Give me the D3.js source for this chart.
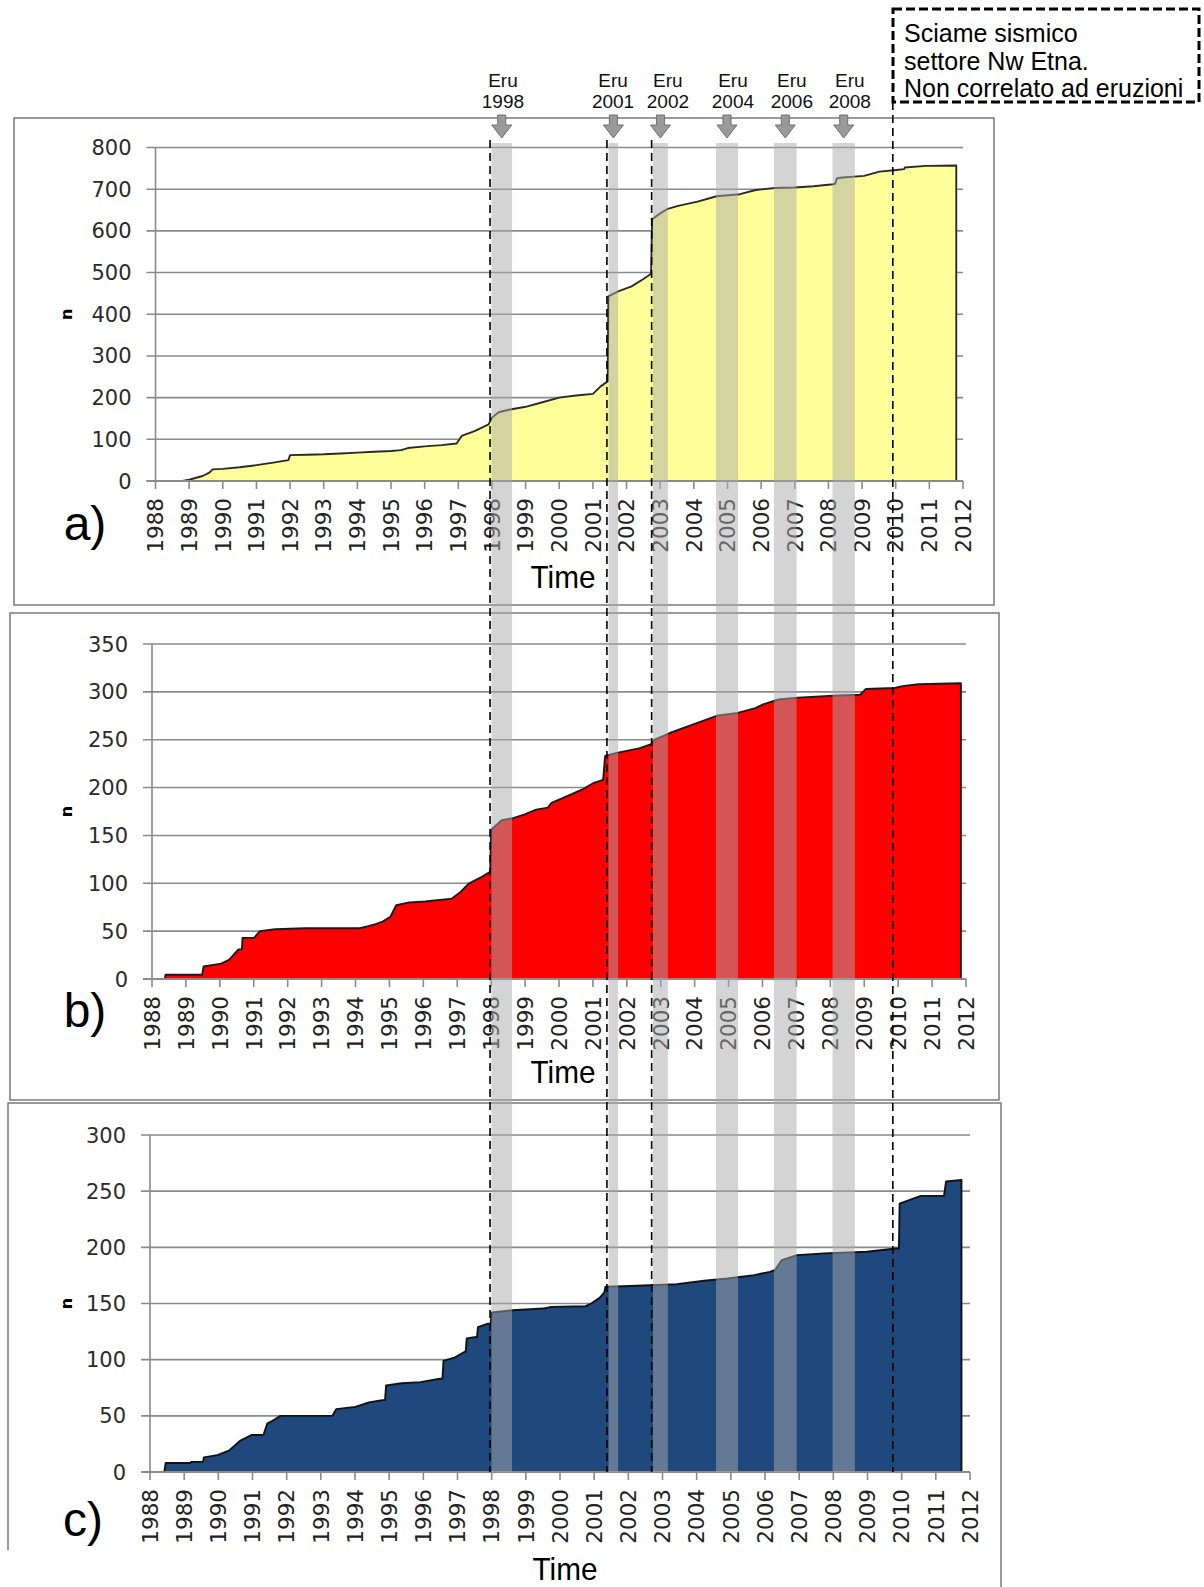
<!DOCTYPE html>
<html><head><meta charset="utf-8">
<script src="https://cdn.jsdelivr.net/npm/d3@7"></script>
<style>body{margin:0;background:#fff}svg{display:block}</style>
</head><body>
<svg id="chart" width="1204" height="1587"></svg>
<script>
// ---------------- DATA ----------------
const years = d3.range(1988, 2013);
// cumulative number of events, [decimal year, n]
const seriesA = [[1988,0],[1988.8,0],[1989.0,3],[1989.4,12],[1989.6,20],[1989.7,28],[1990.0,29],[1990.5,33],[1991.0,38],[1991.5,44],[1991.95,50],[1992.0,62],[1992.5,63],[1993.0,64],[1993.5,66],[1994.0,68],[1994.5,70],[1995.0,72],[1995.3,74],[1995.5,79],[1996.0,83],[1996.5,86],[1996.95,90],[1997.1,108],[1997.5,120],[1997.9,136],[1998.0,152],[1998.2,165],[1998.5,171],[1999.0,178],[1999.5,189],[2000.0,200],[2000.5,205],[2001.0,209],[2001.23,227],[2001.44,239],[2001.46,443],[2001.75,455],[2002.15,467],[2002.49,484],[2002.73,497],[2002.76,628],[2003.0,642],[2003.2,652],[2003.53,660],[2004.11,670],[2004.68,683],[2005.37,688],[2005.84,698],[2006.41,703],[2006.99,704],[2007.56,707],[2008.14,712],[2008.2,713],[2008.25,726],[2008.42,728],[2009.06,732],[2009.52,742],[2010.02,746],[2010.25,748],[2010.27,752],[2010.9,756],[2011.8,757]];
const seriesB = [[1988,0],[1988.38,0],[1988.4,4.5],[1989.48,4.5],[1989.52,13],[1990.04,16],[1990.27,20],[1990.55,31],[1990.65,31],[1990.67,43],[1991.01,43],[1991.18,50],[1991.63,52],[1992.53,53],[1994.12,53],[1994.35,55],[1994.57,57],[1994.8,60],[1995.03,65],[1995.2,77],[1995.59,80],[1996.05,81],[1996.84,84],[1997.07,90],[1997.35,100],[1997.74,107],[1997.97,112],[1998.0,156],[1998.31,166],[1998.65,168],[1998.99,172],[1999.33,177],[1999.67,179],[1999.78,184],[2000.24,191],[2000.69,198],[2001.03,205],[2001.3,208],[2001.36,233],[2001.67,236],[2002.36,241],[2002.7,245],[2002.82,250],[2003.27,257],[2003.96,266],[2004.65,275],[2005.27,278],[2005.79,283],[2006.02,287],[2006.47,292],[2007.05,294],[2008.08,296],[2008.88,297],[2009.05,303],[2009.9,304],[2010.13,306],[2010.59,308],[2011.85,309]];
const seriesC = [[1988,0],[1988.42,0],[1988.46,8],[1989.19,8],[1989.2,9],[1989.55,9],[1989.58,13],[1989.97,15],[1990.31,19],[1990.65,28],[1990.98,33],[1991.32,33],[1991.43,43],[1991.55,45],[1991.82,50],[1993.34,50],[1993.45,56],[1994.01,58],[1994.41,62],[1994.8,64],[1994.88,64],[1994.91,77],[1995.36,79],[1995.92,80],[1996.48,83],[1996.56,83],[1996.59,99],[1996.93,102],[1997.21,107],[1997.24,107],[1997.27,119],[1997.49,120],[1997.57,120],[1997.6,129],[1997.89,132],[1997.97,132],[1998.0,142],[1998.61,144],[1999.51,145.5],[1999.74,147],[2000.75,147.6],[2000.91,150],[2001.16,155],[2001.3,160],[2001.33,165],[2001.84,165.4],[2002.63,166.3],[2003.42,167.2],[2004.22,170.2],[2004.9,172.3],[2005.69,175.3],[2006.14,178.2],[2006.3,180],[2006.49,188.6],[2006.94,193.1],[2007.73,194.6],[2008.98,196.1],[2009.83,199],[2009.92,199],[2009.94,239],[2010.22,242],[2010.56,245.8],[2011.24,245.8],[2011.3,258.6],[2011.75,260]];

const yTicksA = [0,100,200,300,400,500,600,700,800];
const yTicksB = [0,50,100,150,200,250,300,350];
const yTicksC = [0,50,100,150,200,250,300];

const eruNames = ["Eru 1998","Eru 2001","Eru 2002","Eru 2004","Eru 2006","Eru 2008"];
const eruBandStart = [1997.99, 2001.45, 2002.76, 2004.62, 2006.33, 2008.06];
const eruBandEnd   = [1998.60, 2001.73, 2003.20, 2005.27, 2007.00, 2008.72];
const eruLabelYear = [1998.33, 2001.58, 2003.20, 2005.12, 2006.86, 2008.57];
const dashedYears  = [1997.95, 2001.40, 2002.72, 2009.84];
const noteLines = ["Sciame sismico", "settore Nw Etna.", "Non correlato ad eruzioni"];

// ---------------- LAYOUT ----------------
const svg = d3.select("#chart");
const panels = [
  {data: seriesA, ticks: yTicksA, yMax: 800, fill: "#ffff99", stroke: "#2a2a2a", letter: "a)",
   frame: [14,118,994,605], xr: [155.5,963], yr: [481,147.5], letterPos: [85,540], timePos: [563,588], open:false},
  {data: seriesB, ticks: yTicksB, yMax: 350, fill: "#ff0000", stroke: "#1a1a1a", letter: "b)",
   frame: [10,613,999,1100], xr: [152,966], yr: [979,644], letterPos: [85,1027], timePos: [563,1083], open:false},
  {data: seriesC, ticks: yTicksC, yMax: 300, fill: "#1f497d", stroke: "#111", letter: "c)",
   frame: [8,1103,1001,1587], xr: [150,970], yr: [1472,1135], letterPos: [83,1536], timePos: [565,1580], open:true}
];
const gridColor = "#8a8a8a";
const tickFont = "'DejaVu Sans', Verdana, sans-serif";

panels.forEach(p => {
  const g = svg.append("g");
  const x = d3.scaleLinear().domain([1988,2012]).range(p.xr);
  const y = d3.scaleLinear().domain([0,p.yMax]).range(p.yr);
  const [fx0,fy0,fx1,fy1] = p.frame;
  if (!p.open) {
    g.append("rect").attr("x",fx0).attr("y",fy0).attr("width",fx1-fx0).attr("height",fy1-fy0)
      .attr("fill","none").attr("stroke","#7a7a7a").attr("stroke-width",1.5);
  } else {
    g.append("path").attr("d",`M${fx0},1550V${fy0}H${fx1}V${fy1}`)
      .attr("fill","none").attr("stroke","#7a7a7a").attr("stroke-width",1.5);
  }
  // gridlines
  g.selectAll(".grid").data(p.ticks).join("line")
    .attr("x1", x(1988)-9).attr("x2", x(2012))
    .attr("y1", d=>y(d)).attr("y2", d=>y(d))
    .attr("stroke", gridColor).attr("stroke-width", 1.6);
  // area
  const area = d3.area().x(d=>x(d[0])).y0(y(0)).y1(d=>y(d[1]));
  g.append("path").datum(p.data).attr("d", area).attr("fill", p.fill);
  const last = p.data[p.data.length-1];
  const outline = p.data.concat([[last[0],0]]);
  g.append("path").datum(outline).attr("d", d3.line().x(d=>x(d[0])).y(d=>y(d[1])))
    .attr("fill","none").attr("stroke",p.stroke).attr("stroke-width",1.9).attr("stroke-linejoin","round");
  // axes
  g.append("line").attr("x1",x(1988)).attr("x2",x(1988)).attr("y1",y(0)).attr("y2",y(p.yMax))
    .attr("stroke",gridColor).attr("stroke-width",1.6);
  g.append("line").attr("x1",x(1988)-9).attr("x2",x(2012)).attr("y1",y(0)).attr("y2",y(0))
    .attr("stroke",gridColor).attr("stroke-width",1.8);
  g.selectAll(".xt").data(years).join("line")
    .attr("x1",d=>x(d)).attr("x2",d=>x(d)).attr("y1",y(0)).attr("y2",y(0)+8)
    .attr("stroke",gridColor).attr("stroke-width",1.6);
  // y labels
  g.selectAll(".yl").data(p.ticks).join("text")
    .attr("x", x(1988)-24).attr("y", d=>y(d)).attr("dy","0.36em")
    .attr("text-anchor","end").attr("font-family",tickFont).attr("font-size",21).attr("fill","#2b2b2b")
    .text(d=>d);
  // x labels
  g.selectAll(".xl").data(years).join("text")
    .attr("transform", d=>`translate(${x(d)},${y(0)+17}) rotate(-90)`)
    .attr("dy","0.36em").attr("text-anchor","end")
    .attr("font-family",tickFont).attr("font-size",21.5).attr("fill","#222")
    .text(d=>d);
  // n label
  g.append("text").attr("transform",`translate(66,${(y(0)+y(p.yMax))/2}) rotate(-90)`)
    .attr("dy","0.36em").attr("text-anchor","middle").attr("font-family","'DejaVu Sans', Arial, sans-serif")
    .attr("font-weight","bold").attr("font-size",16).attr("fill","#000").text("n");
  // Time
  g.append("text").attr("transform",`translate(${p.timePos[0]},${p.timePos[1]}) scale(0.93,1)`)
    .attr("text-anchor","middle")
    .attr("font-family","'Liberation Sans Narrow', 'Arial Narrow', sans-serif").attr("font-size",32).attr("fill","#000")
    .text("Time");
  g.append("text").attr("x",p.letterPos[0]).attr("y",p.letterPos[1]).attr("text-anchor","middle")
    .attr("font-family","'Liberation Sans', Arial, sans-serif").attr("font-size",48).attr("fill","#000")
    .text(p.letter);
});

// ---------------- OVERLAY ----------------
const xo = d3.scaleLinear().domain([1988,2012]).range([153,966]);
const ov = svg.append("g");
const bandTop = 143, bandBottom = 1472;
ov.selectAll(".band").data(eruBandStart).join("rect")
  .attr("x", d=>xo(d)).attr("width",(d,i)=>xo(eruBandEnd[i])-xo(d))
  .attr("y", bandTop).attr("height", bandBottom-bandTop)
  .attr("fill","#aaaaaa").attr("fill-opacity",0.5);

const boxBottom = 102;
ov.selectAll(".dash").data(dashedYears).join("line")
  .attr("x1",d=>xo(d)).attr("x2",d=>xo(d))
  .attr("y1",(d,i)=> i===dashedYears.length-1 ? boxBottom : 140).attr("y2",bandBottom)
  .attr("stroke","#000").attr("stroke-width",1.6).attr("stroke-dasharray","8,5");

// arrows
ov.selectAll(".arrow").data(eruBandStart).join("path")
  .attr("d",(d,i)=>{
    const cx = xo((d+eruBandEnd[i])/2);
    return `M${cx-4},115L${cx+4},115L${cx+4},125L${cx+10},125L${cx},138L${cx-10},125L${cx-4},125Z`;
  })
  .attr("fill","#9a9a9a").attr("stroke","#6f6f6f").attr("stroke-width",1);

const lab = ov.selectAll(".eru").data(eruNames).join("text")
  .attr("x",(d,i)=>xo(eruLabelYear[i])).attr("y",87).attr("text-anchor","middle")
  .attr("font-family","'Liberation Sans', Arial, sans-serif").attr("font-size",19).attr("fill","#111");
lab.append("tspan").attr("x",(d,i)=>xo(eruLabelYear[i])).text(d=>d.split(" ")[0]);
lab.append("tspan").attr("x",(d,i)=>xo(eruLabelYear[i])).attr("dy",21).text(d=>d.split(" ")[1]);

// note box
ov.append("rect").attr("x",893).attr("y",9).attr("width",306).attr("height",boxBottom-9)
  .attr("fill","#fff").attr("stroke","#000").attr("stroke-width",3).attr("stroke-dasharray","9,4");
ov.selectAll(".note").data(noteLines).join("text")
  .attr("x",904).attr("y",(d,i)=>42+i*27.5)
  .attr("font-family","'Liberation Sans', Arial, sans-serif").attr("font-size",25).attr("fill","#000")
  .text(d=>d);
</script>
</body></html>
